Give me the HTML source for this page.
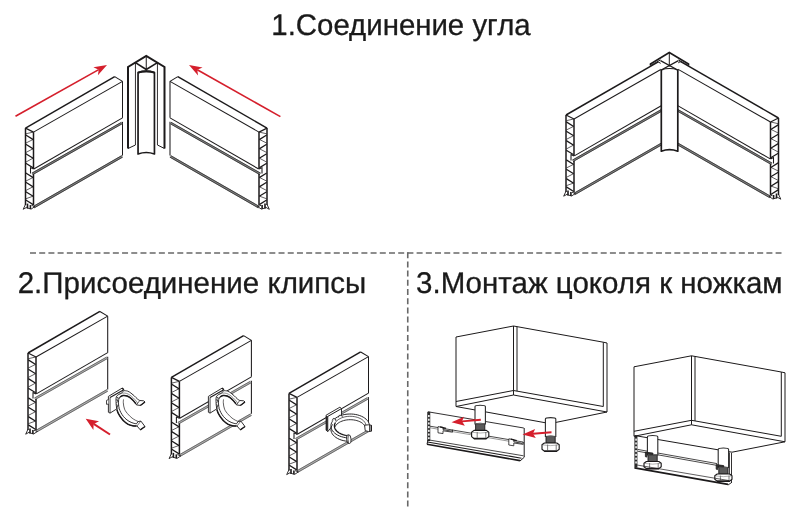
<!DOCTYPE html>
<html lang="ru">
<head>
<meta charset="utf-8">
<title>Монтаж цоколя</title>
<style>
html,body{margin:0;padding:0;background:#fff;}
body{width:800px;height:509px;overflow:hidden;position:relative;font-family:"Liberation Sans",sans-serif;}
svg{position:absolute;left:0;top:0;display:block;}
</style>
</head>
<body>
<svg width="800" height="509" viewBox="0 0 800 509">
<rect width="800" height="509" fill="#fff"/>
<line x1="30" y1="253" x2="781.5" y2="253" stroke="#686868" stroke-width="1.6" stroke-dasharray="6 3.205"/>
<line x1="407.75" y1="252.2" x2="407.75" y2="509" stroke="#686868" stroke-width="1.6" stroke-dasharray="6 3.2"/>
<g stroke-linecap="butt" stroke-linejoin="round">
<g transform="translate(25.5 128.1)">
<path d="M0 0 L89.2 -51.43 L97 -46.73 L97 28.27 L8 79 L0 77 Z" fill="#fff" stroke="none" stroke-width="0"/>
<line x1="0" y1="0" x2="89.2" y2="-51.43" stroke="#1c1a1b" stroke-width="1.5"/>
<line x1="8" y1="4" x2="97" y2="-46.73" stroke="#1c1a1b" stroke-width="1.05"/>
<line x1="89.2" y1="-51.43" x2="97" y2="-46.73" stroke="#1c1a1b" stroke-width="1.05"/>
<line x1="0" y1="0" x2="8" y2="4" stroke="#1c1a1b" stroke-width="1.2"/>
<line x1="97" y1="-46.73" x2="97" y2="-10.23" stroke="#1c1a1b" stroke-width="1.05"/>
<line x1="97" y1="-6.23" x2="97" y2="27.47" stroke="#1c1a1b" stroke-width="1.05"/>
<line x1="8.3" y1="40.9" x2="97" y2="-10.23" stroke="#1c1a1b" stroke-width="1.05"/>
<line x1="6.8" y1="45.8" x2="96.4" y2="-5.13" stroke="#858585" stroke-width="2.4"/>
<line x1="7.2" y1="46.5" x2="96.8" y2="-4.43" stroke="#2e2e2e" stroke-width="0.8"/>
<line x1="6.4" y1="45.1" x2="96" y2="-5.83" stroke="#2e2e2e" stroke-width="0.8"/>
<line x1="8.3" y1="79" x2="96.7" y2="28.27" stroke="#858585" stroke-width="2.5"/>
<line x1="8.72" y1="79.74" x2="97.12" y2="29.01" stroke="#2e2e2e" stroke-width="0.8"/>
<line x1="7.88" y1="78.26" x2="96.28" y2="27.53" stroke="#2e2e2e" stroke-width="0.8"/>
<line x1="0" y1="0" x2="0" y2="77" stroke="#1c1a1b" stroke-width="1.5"/>
<line x1="8" y1="4" x2="8" y2="41" stroke="#1c1a1b" stroke-width="1.5"/>
<line x1="8" y1="46" x2="8" y2="77" stroke="#1c1a1b" stroke-width="1.5"/>
<path d="M8 41 L5 39.5 L5 45.5" fill="none" stroke="#1c1a1b" stroke-width="1.05"/>
<line x1="0.3" y1="6.9" x2="7.7" y2="11.5" stroke="#1c1a1b" stroke-width="1.25"/>
<line x1="0.3" y1="16.2" x2="7.7" y2="20.8" stroke="#1c1a1b" stroke-width="1.25"/>
<line x1="0.3" y1="25.6" x2="7.7" y2="30.2" stroke="#1c1a1b" stroke-width="1.25"/>
<line x1="0.3" y1="35.2" x2="7.7" y2="39.8" stroke="#1c1a1b" stroke-width="1.25"/>
<line x1="0.3" y1="44.9" x2="7.7" y2="49.5" stroke="#1c1a1b" stroke-width="1.25"/>
<line x1="0.3" y1="54.2" x2="7.7" y2="58.8" stroke="#1c1a1b" stroke-width="1.25"/>
<line x1="0.3" y1="63.6" x2="7.7" y2="68.2" stroke="#1c1a1b" stroke-width="1.25"/>
<line x1="0.3" y1="71.9" x2="7.7" y2="76.5" stroke="#1c1a1b" stroke-width="1.25"/>
<line x1="7.7" y1="4" x2="0.3" y2="5.7" stroke="#1c1a1b" stroke-width="0.7"/>
<line x1="7.7" y1="11.3" x2="0.3" y2="15" stroke="#1c1a1b" stroke-width="0.7"/>
<line x1="7.7" y1="20.6" x2="0.3" y2="24.4" stroke="#1c1a1b" stroke-width="0.7"/>
<line x1="7.7" y1="30" x2="0.3" y2="34" stroke="#1c1a1b" stroke-width="0.7"/>
<line x1="7.7" y1="49.3" x2="0.3" y2="53" stroke="#1c1a1b" stroke-width="0.7"/>
<line x1="7.7" y1="58.6" x2="0.3" y2="62.4" stroke="#1c1a1b" stroke-width="0.7"/>
<line x1="7.7" y1="68" x2="0.3" y2="70.7" stroke="#1c1a1b" stroke-width="0.7"/>
<path d="M0 76.2 L-2.3 81.2 L1.2 79.2" fill="none" stroke="#1c1a1b" stroke-width="0.9"/>
<line x1="2" y1="75.5" x2="2" y2="80.4" stroke="#1c1a1b" stroke-width="1.6"/>
<line x1="4.9" y1="77" x2="4.9" y2="80.9" stroke="#1c1a1b" stroke-width="1.6"/>
<path d="M6 77.2 L9.4 78.5 L5.6 81" fill="none" stroke="#1c1a1b" stroke-width="0.9"/>
<line x1="1" y1="79.6" x2="5.6" y2="81" stroke="#1c1a1b" stroke-width="0.9"/>
</g>
<g transform="translate(267 128.1) scale(-1 1)">
<path d="M0 0 L89.2 -51.43 L97 -46.73 L97 28.27 L8 79 L0 77 Z" fill="#fff" stroke="none" stroke-width="0"/>
<line x1="0" y1="0" x2="89.2" y2="-51.43" stroke="#1c1a1b" stroke-width="1.5"/>
<line x1="8" y1="4" x2="97" y2="-46.73" stroke="#1c1a1b" stroke-width="1.05"/>
<line x1="89.2" y1="-51.43" x2="97" y2="-46.73" stroke="#1c1a1b" stroke-width="1.05"/>
<line x1="0" y1="0" x2="8" y2="4" stroke="#1c1a1b" stroke-width="1.2"/>
<line x1="97" y1="-46.73" x2="97" y2="-10.23" stroke="#1c1a1b" stroke-width="1.05"/>
<line x1="97" y1="-6.23" x2="97" y2="27.47" stroke="#1c1a1b" stroke-width="1.05"/>
<line x1="8.3" y1="40.9" x2="97" y2="-10.23" stroke="#1c1a1b" stroke-width="1.05"/>
<line x1="6.8" y1="45.8" x2="96.4" y2="-5.13" stroke="#858585" stroke-width="2.4"/>
<line x1="7.2" y1="46.5" x2="96.8" y2="-4.43" stroke="#2e2e2e" stroke-width="0.8"/>
<line x1="6.4" y1="45.1" x2="96" y2="-5.83" stroke="#2e2e2e" stroke-width="0.8"/>
<line x1="8.3" y1="79" x2="96.7" y2="28.27" stroke="#858585" stroke-width="2.5"/>
<line x1="8.72" y1="79.74" x2="97.12" y2="29.01" stroke="#2e2e2e" stroke-width="0.8"/>
<line x1="7.88" y1="78.26" x2="96.28" y2="27.53" stroke="#2e2e2e" stroke-width="0.8"/>
<line x1="0" y1="0" x2="0" y2="77" stroke="#1c1a1b" stroke-width="1.5"/>
<line x1="8" y1="4" x2="8" y2="41" stroke="#1c1a1b" stroke-width="1.5"/>
<line x1="8" y1="46" x2="8" y2="77" stroke="#1c1a1b" stroke-width="1.5"/>
<path d="M8 41 L5 39.5 L5 45.5" fill="none" stroke="#1c1a1b" stroke-width="1.05"/>
<line x1="0.3" y1="6.9" x2="7.7" y2="11.5" stroke="#1c1a1b" stroke-width="1.25"/>
<line x1="0.3" y1="16.2" x2="7.7" y2="20.8" stroke="#1c1a1b" stroke-width="1.25"/>
<line x1="0.3" y1="25.6" x2="7.7" y2="30.2" stroke="#1c1a1b" stroke-width="1.25"/>
<line x1="0.3" y1="35.2" x2="7.7" y2="39.8" stroke="#1c1a1b" stroke-width="1.25"/>
<line x1="0.3" y1="44.9" x2="7.7" y2="49.5" stroke="#1c1a1b" stroke-width="1.25"/>
<line x1="0.3" y1="54.2" x2="7.7" y2="58.8" stroke="#1c1a1b" stroke-width="1.25"/>
<line x1="0.3" y1="63.6" x2="7.7" y2="68.2" stroke="#1c1a1b" stroke-width="1.25"/>
<line x1="0.3" y1="71.9" x2="7.7" y2="76.5" stroke="#1c1a1b" stroke-width="1.25"/>
<line x1="7.7" y1="4" x2="0.3" y2="5.7" stroke="#1c1a1b" stroke-width="0.7"/>
<line x1="7.7" y1="11.3" x2="0.3" y2="15" stroke="#1c1a1b" stroke-width="0.7"/>
<line x1="7.7" y1="20.6" x2="0.3" y2="24.4" stroke="#1c1a1b" stroke-width="0.7"/>
<line x1="7.7" y1="30" x2="0.3" y2="34" stroke="#1c1a1b" stroke-width="0.7"/>
<line x1="7.7" y1="49.3" x2="0.3" y2="53" stroke="#1c1a1b" stroke-width="0.7"/>
<line x1="7.7" y1="58.6" x2="0.3" y2="62.4" stroke="#1c1a1b" stroke-width="0.7"/>
<line x1="7.7" y1="68" x2="0.3" y2="70.7" stroke="#1c1a1b" stroke-width="0.7"/>
<path d="M0 76.2 L-2.3 81.2 L1.2 79.2" fill="none" stroke="#1c1a1b" stroke-width="0.9"/>
<line x1="2" y1="75.5" x2="2" y2="80.4" stroke="#1c1a1b" stroke-width="1.6"/>
<line x1="4.9" y1="77" x2="4.9" y2="80.9" stroke="#1c1a1b" stroke-width="1.6"/>
<path d="M6 77.2 L9.4 78.5 L5.6 81" fill="none" stroke="#1c1a1b" stroke-width="0.9"/>
<line x1="1" y1="79.6" x2="5.6" y2="81" stroke="#1c1a1b" stroke-width="0.9"/>
</g>
<path d="M128 67 L146.25 56 L164.5 67 L164.5 148.5 L156.75 145 L154.45 154 L138.05 154 L135.75 145 L128 148.5 Z" fill="#fff" stroke="none" stroke-width="0"/>
<path d="M128 148.5 L128 67 L146.25 56 L164.5 67 L164.5 148.5" fill="none" stroke="#1c1a1b" stroke-width="2.0" stroke-linejoin="miter"/>
<line x1="135.45" y1="63" x2="135.45" y2="145" stroke="#1c1a1b" stroke-width="0.9"/>
<line x1="157.45" y1="63" x2="157.45" y2="145" stroke="#1c1a1b" stroke-width="0.9"/>
<line x1="128" y1="148.5" x2="135.45" y2="145" stroke="#1c1a1b" stroke-width="1.0"/>
<line x1="164.5" y1="148.5" x2="157.45" y2="145" stroke="#1c1a1b" stroke-width="1.0"/>
<line x1="135.45" y1="62.6" x2="146.25" y2="69.5" stroke="#1c1a1b" stroke-width="1.6"/>
<line x1="157.45" y1="62.6" x2="146.25" y2="69.5" stroke="#1c1a1b" stroke-width="1.6"/>
<line x1="146.25" y1="56" x2="146.25" y2="71" stroke="#1c1a1b" stroke-width="1.0"/>
<path d="M138.05 154 L138.05 72.6 Q146.25 70 154.45 72.6 L154.45 154 Q146.25 151 138.05 154 Z" fill="#fff" stroke="#1c1a1b" stroke-width="1.7"/>
<path d="M138.05 72.6 Q146.25 70 154.45 72.6" fill="none" stroke="#1c1a1b" stroke-width="2.0"/>
<line x1="15.5" y1="116.2" x2="98.71" y2="69.64" stroke="#d51f2c" stroke-width="1.65"/>
<path d="M107 65 L97.9 75.36 L98.71 69.64 L93.41 67.33 Z" fill="#d51f2c" stroke="none" stroke-width="0"/>
<line x1="280.4" y1="116.6" x2="197.27" y2="69.67" stroke="#d51f2c" stroke-width="1.65"/>
<path d="M189 65 L202.58 67.39 L197.27 69.67 L198.06 75.4 Z" fill="#d51f2c" stroke="none" stroke-width="0"/>
<g transform="translate(566 115)">
<path d="M0 0 L92.2 -53.14 L100 -48.44 L100 26.56 L8 79 L0 77 Z" fill="#fff" stroke="none" stroke-width="0"/>
<line x1="0" y1="0" x2="92.2" y2="-53.14" stroke="#1c1a1b" stroke-width="1.5"/>
<line x1="8" y1="4" x2="100" y2="-48.44" stroke="#1c1a1b" stroke-width="1.05"/>
<line x1="92.2" y1="-53.14" x2="100" y2="-48.44" stroke="#1c1a1b" stroke-width="1.05"/>
<line x1="0" y1="0" x2="8" y2="4" stroke="#1c1a1b" stroke-width="1.2"/>
<line x1="100" y1="-48.44" x2="100" y2="-11.94" stroke="#1c1a1b" stroke-width="1.05"/>
<line x1="100" y1="-7.94" x2="100" y2="25.76" stroke="#1c1a1b" stroke-width="1.05"/>
<line x1="8.3" y1="40.9" x2="100" y2="-11.94" stroke="#1c1a1b" stroke-width="1.05"/>
<line x1="6.8" y1="45.8" x2="99.4" y2="-6.84" stroke="#858585" stroke-width="2.4"/>
<line x1="7.2" y1="46.5" x2="99.8" y2="-6.14" stroke="#2e2e2e" stroke-width="0.8"/>
<line x1="6.4" y1="45.1" x2="99" y2="-7.54" stroke="#2e2e2e" stroke-width="0.8"/>
<line x1="8.3" y1="79" x2="99.7" y2="26.56" stroke="#858585" stroke-width="2.5"/>
<line x1="8.72" y1="79.74" x2="100.12" y2="27.3" stroke="#2e2e2e" stroke-width="0.8"/>
<line x1="7.88" y1="78.26" x2="99.28" y2="25.82" stroke="#2e2e2e" stroke-width="0.8"/>
<line x1="0" y1="0" x2="0" y2="77" stroke="#1c1a1b" stroke-width="1.5"/>
<line x1="8" y1="4" x2="8" y2="41" stroke="#1c1a1b" stroke-width="1.5"/>
<line x1="8" y1="46" x2="8" y2="77" stroke="#1c1a1b" stroke-width="1.5"/>
<path d="M8 41 L5 39.5 L5 45.5" fill="none" stroke="#1c1a1b" stroke-width="1.05"/>
<line x1="0.3" y1="6.9" x2="7.7" y2="11.5" stroke="#1c1a1b" stroke-width="1.25"/>
<line x1="0.3" y1="16.2" x2="7.7" y2="20.8" stroke="#1c1a1b" stroke-width="1.25"/>
<line x1="0.3" y1="25.6" x2="7.7" y2="30.2" stroke="#1c1a1b" stroke-width="1.25"/>
<line x1="0.3" y1="35.2" x2="7.7" y2="39.8" stroke="#1c1a1b" stroke-width="1.25"/>
<line x1="0.3" y1="44.9" x2="7.7" y2="49.5" stroke="#1c1a1b" stroke-width="1.25"/>
<line x1="0.3" y1="54.2" x2="7.7" y2="58.8" stroke="#1c1a1b" stroke-width="1.25"/>
<line x1="0.3" y1="63.6" x2="7.7" y2="68.2" stroke="#1c1a1b" stroke-width="1.25"/>
<line x1="0.3" y1="71.9" x2="7.7" y2="76.5" stroke="#1c1a1b" stroke-width="1.25"/>
<line x1="7.7" y1="4" x2="0.3" y2="5.7" stroke="#1c1a1b" stroke-width="0.7"/>
<line x1="7.7" y1="11.3" x2="0.3" y2="15" stroke="#1c1a1b" stroke-width="0.7"/>
<line x1="7.7" y1="20.6" x2="0.3" y2="24.4" stroke="#1c1a1b" stroke-width="0.7"/>
<line x1="7.7" y1="30" x2="0.3" y2="34" stroke="#1c1a1b" stroke-width="0.7"/>
<line x1="7.7" y1="49.3" x2="0.3" y2="53" stroke="#1c1a1b" stroke-width="0.7"/>
<line x1="7.7" y1="58.6" x2="0.3" y2="62.4" stroke="#1c1a1b" stroke-width="0.7"/>
<line x1="7.7" y1="68" x2="0.3" y2="70.7" stroke="#1c1a1b" stroke-width="0.7"/>
<path d="M0 76.2 L-2.3 81.2 L1.2 79.2" fill="none" stroke="#1c1a1b" stroke-width="0.9"/>
<line x1="2" y1="75.5" x2="2" y2="80.4" stroke="#1c1a1b" stroke-width="1.6"/>
<line x1="4.9" y1="77" x2="4.9" y2="80.9" stroke="#1c1a1b" stroke-width="1.6"/>
<path d="M6 77.2 L9.4 78.5 L5.6 81" fill="none" stroke="#1c1a1b" stroke-width="0.9"/>
<line x1="1" y1="79.6" x2="5.6" y2="81" stroke="#1c1a1b" stroke-width="0.9"/>
</g>
<g transform="translate(778.5 118) scale(-1 1)">
<path d="M0 0 L98.2 -56.56 L106 -51.86 L106 23.14 L8 79 L0 77 Z" fill="#fff" stroke="none" stroke-width="0"/>
<line x1="0" y1="0" x2="98.2" y2="-56.56" stroke="#1c1a1b" stroke-width="1.5"/>
<line x1="8" y1="4" x2="106" y2="-51.86" stroke="#1c1a1b" stroke-width="1.05"/>
<line x1="98.2" y1="-56.56" x2="106" y2="-51.86" stroke="#1c1a1b" stroke-width="1.05"/>
<line x1="0" y1="0" x2="8" y2="4" stroke="#1c1a1b" stroke-width="1.2"/>
<line x1="106" y1="-51.86" x2="106" y2="-15.36" stroke="#1c1a1b" stroke-width="1.05"/>
<line x1="106" y1="-11.36" x2="106" y2="22.34" stroke="#1c1a1b" stroke-width="1.05"/>
<line x1="8.3" y1="40.9" x2="106" y2="-15.36" stroke="#1c1a1b" stroke-width="1.05"/>
<line x1="6.8" y1="45.8" x2="105.4" y2="-10.26" stroke="#858585" stroke-width="2.4"/>
<line x1="7.2" y1="46.5" x2="105.8" y2="-9.56" stroke="#2e2e2e" stroke-width="0.8"/>
<line x1="6.4" y1="45.1" x2="105" y2="-10.96" stroke="#2e2e2e" stroke-width="0.8"/>
<line x1="8.3" y1="79" x2="105.7" y2="23.14" stroke="#858585" stroke-width="2.5"/>
<line x1="8.72" y1="79.74" x2="106.12" y2="23.88" stroke="#2e2e2e" stroke-width="0.8"/>
<line x1="7.88" y1="78.26" x2="105.28" y2="22.4" stroke="#2e2e2e" stroke-width="0.8"/>
<line x1="0" y1="0" x2="0" y2="77" stroke="#1c1a1b" stroke-width="1.5"/>
<line x1="8" y1="4" x2="8" y2="41" stroke="#1c1a1b" stroke-width="1.5"/>
<line x1="8" y1="46" x2="8" y2="77" stroke="#1c1a1b" stroke-width="1.5"/>
<path d="M8 41 L5 39.5 L5 45.5" fill="none" stroke="#1c1a1b" stroke-width="1.05"/>
<line x1="0.3" y1="6.9" x2="7.7" y2="11.5" stroke="#1c1a1b" stroke-width="1.25"/>
<line x1="0.3" y1="16.2" x2="7.7" y2="20.8" stroke="#1c1a1b" stroke-width="1.25"/>
<line x1="0.3" y1="25.6" x2="7.7" y2="30.2" stroke="#1c1a1b" stroke-width="1.25"/>
<line x1="0.3" y1="35.2" x2="7.7" y2="39.8" stroke="#1c1a1b" stroke-width="1.25"/>
<line x1="0.3" y1="44.9" x2="7.7" y2="49.5" stroke="#1c1a1b" stroke-width="1.25"/>
<line x1="0.3" y1="54.2" x2="7.7" y2="58.8" stroke="#1c1a1b" stroke-width="1.25"/>
<line x1="0.3" y1="63.6" x2="7.7" y2="68.2" stroke="#1c1a1b" stroke-width="1.25"/>
<line x1="0.3" y1="71.9" x2="7.7" y2="76.5" stroke="#1c1a1b" stroke-width="1.25"/>
<line x1="7.7" y1="4" x2="0.3" y2="5.7" stroke="#1c1a1b" stroke-width="0.7"/>
<line x1="7.7" y1="11.3" x2="0.3" y2="15" stroke="#1c1a1b" stroke-width="0.7"/>
<line x1="7.7" y1="20.6" x2="0.3" y2="24.4" stroke="#1c1a1b" stroke-width="0.7"/>
<line x1="7.7" y1="30" x2="0.3" y2="34" stroke="#1c1a1b" stroke-width="0.7"/>
<line x1="7.7" y1="49.3" x2="0.3" y2="53" stroke="#1c1a1b" stroke-width="0.7"/>
<line x1="7.7" y1="58.6" x2="0.3" y2="62.4" stroke="#1c1a1b" stroke-width="0.7"/>
<line x1="7.7" y1="68" x2="0.3" y2="70.7" stroke="#1c1a1b" stroke-width="0.7"/>
<path d="M0 76.2 L-2.3 81.2 L1.2 79.2" fill="none" stroke="#1c1a1b" stroke-width="0.9"/>
<line x1="2" y1="75.5" x2="2" y2="80.4" stroke="#1c1a1b" stroke-width="1.6"/>
<line x1="4.9" y1="77" x2="4.9" y2="80.9" stroke="#1c1a1b" stroke-width="1.6"/>
<path d="M6 77.2 L9.4 78.5 L5.6 81" fill="none" stroke="#1c1a1b" stroke-width="0.9"/>
<line x1="1" y1="79.6" x2="5.6" y2="81" stroke="#1c1a1b" stroke-width="0.9"/>
</g>
<path d="M661.3 151.2 L661.3 69.8 Q669.55 67.1 677.8 69.8 L677.8 151.2 Q669.55 148.2 661.3 151.2 Z" fill="#fff" stroke="#1c1a1b" stroke-width="1.7"/>
<path d="M650.5 65.2 L650.5 63.9 L669.3 52.5 L688.5 63.9 L688.5 65.2 L678.4 59.9 L678.1 70 L660.8 70 L660.5 59.9 Z" fill="#fff" stroke="none" stroke-width="0"/>
<path d="M661.3 69.8 Q669.55 67.1 677.8 69.8" fill="none" stroke="#1c1a1b" stroke-width="1.1"/>
<path d="M650.5 65.4 L650.5 63.9 L669.3 52.5 L688.5 63.9 L688.5 65.4" fill="none" stroke="#1c1a1b" stroke-width="1.7" stroke-linejoin="miter"/>
<line x1="650.5" y1="65.5" x2="660.5" y2="59.9" stroke="#1c1a1b" stroke-width="1.0"/>
<line x1="688.5" y1="65.5" x2="678.4" y2="59.9" stroke="#1c1a1b" stroke-width="1.0"/>
<line x1="660.5" y1="60.6" x2="678.1" y2="70.2" stroke="#1c1a1b" stroke-width="1.2"/>
<line x1="678.4" y1="60.6" x2="660.8" y2="70.2" stroke="#1c1a1b" stroke-width="1.2"/>
<line x1="669.3" y1="52.5" x2="669.3" y2="66.5" stroke="#1c1a1b" stroke-width="1.0"/>
<g transform="translate(28 353)">
<path d="M0 0 L71.9 -41.57 L79.7 -36.87 L79.7 37.33 L8 78.2 L0 77 Z" fill="#fff" stroke="none" stroke-width="0"/>
<line x1="0" y1="0" x2="71.9" y2="-41.57" stroke="#1c1a1b" stroke-width="1.5"/>
<line x1="8" y1="4" x2="79.7" y2="-36.87" stroke="#1c1a1b" stroke-width="1.05"/>
<line x1="71.9" y1="-41.57" x2="79.7" y2="-36.87" stroke="#1c1a1b" stroke-width="1.05"/>
<line x1="0" y1="0" x2="8" y2="4" stroke="#1c1a1b" stroke-width="1.2"/>
<line x1="79.7" y1="-36.87" x2="79.7" y2="-0.37" stroke="#1c1a1b" stroke-width="1.05"/>
<line x1="79.7" y1="3.63" x2="79.7" y2="36.53" stroke="#1c1a1b" stroke-width="1.05"/>
<line x1="8.3" y1="40.9" x2="79.7" y2="-0.37" stroke="#1c1a1b" stroke-width="1.05"/>
<line x1="6.8" y1="45.8" x2="79.1" y2="4.73" stroke="#b0b0b0" stroke-width="2.4"/>
<line x1="7.22" y1="46.54" x2="79.52" y2="5.47" stroke="#4a4a4a" stroke-width="0.7"/>
<line x1="6.38" y1="45.06" x2="78.68" y2="3.99" stroke="#4a4a4a" stroke-width="0.7"/>
<line x1="8.3" y1="78.2" x2="79.4" y2="37.33" stroke="#b0b0b0" stroke-width="2.5"/>
<line x1="8.75" y1="78.98" x2="79.85" y2="38.11" stroke="#4a4a4a" stroke-width="0.7"/>
<line x1="7.85" y1="77.42" x2="78.95" y2="36.55" stroke="#4a4a4a" stroke-width="0.7"/>
<line x1="0" y1="0" x2="0" y2="77" stroke="#1c1a1b" stroke-width="1.5"/>
<line x1="8" y1="4" x2="8" y2="41" stroke="#1c1a1b" stroke-width="1.5"/>
<line x1="8" y1="46" x2="8" y2="77" stroke="#1c1a1b" stroke-width="1.5"/>
<path d="M8 41 L5 39.5 L5 45.5" fill="none" stroke="#1c1a1b" stroke-width="1.05"/>
<line x1="0.3" y1="6.9" x2="7.7" y2="11.5" stroke="#1c1a1b" stroke-width="1.25"/>
<line x1="0.3" y1="16.2" x2="7.7" y2="20.8" stroke="#1c1a1b" stroke-width="1.25"/>
<line x1="0.3" y1="25.6" x2="7.7" y2="30.2" stroke="#1c1a1b" stroke-width="1.25"/>
<line x1="0.3" y1="35.2" x2="7.7" y2="39.8" stroke="#1c1a1b" stroke-width="1.25"/>
<line x1="0.3" y1="44.9" x2="7.7" y2="49.5" stroke="#1c1a1b" stroke-width="1.25"/>
<line x1="0.3" y1="54.2" x2="7.7" y2="58.8" stroke="#1c1a1b" stroke-width="1.25"/>
<line x1="0.3" y1="63.6" x2="7.7" y2="68.2" stroke="#1c1a1b" stroke-width="1.25"/>
<line x1="0.3" y1="71.9" x2="7.7" y2="76.5" stroke="#1c1a1b" stroke-width="1.25"/>
<line x1="7.7" y1="4" x2="0.3" y2="5.7" stroke="#1c1a1b" stroke-width="0.7"/>
<line x1="7.7" y1="11.3" x2="0.3" y2="15" stroke="#1c1a1b" stroke-width="0.7"/>
<line x1="7.7" y1="20.6" x2="0.3" y2="24.4" stroke="#1c1a1b" stroke-width="0.7"/>
<line x1="7.7" y1="30" x2="0.3" y2="34" stroke="#1c1a1b" stroke-width="0.7"/>
<line x1="7.7" y1="49.3" x2="0.3" y2="53" stroke="#1c1a1b" stroke-width="0.7"/>
<line x1="7.7" y1="58.6" x2="0.3" y2="62.4" stroke="#1c1a1b" stroke-width="0.7"/>
<line x1="7.7" y1="68" x2="0.3" y2="70.7" stroke="#1c1a1b" stroke-width="0.7"/>
<path d="M0 76.2 L-2.3 81.2 L1.2 79.2" fill="none" stroke="#1c1a1b" stroke-width="0.9"/>
<line x1="2" y1="75.5" x2="2" y2="80.4" stroke="#1c1a1b" stroke-width="1.6"/>
<line x1="4.9" y1="77" x2="4.9" y2="80.9" stroke="#1c1a1b" stroke-width="1.6"/>
<path d="M6 77.2 L9.4 78.5 L5.6 81" fill="none" stroke="#1c1a1b" stroke-width="0.9"/>
<line x1="1" y1="79.6" x2="5.6" y2="81" stroke="#1c1a1b" stroke-width="0.9"/>
</g>
<g transform="translate(171.4 377.4)">
<path d="M0 0 L72.2 -41.74 L80 -37.04 L80 37.16 L8 78.2 L0 77 Z" fill="#fff" stroke="none" stroke-width="0"/>
<line x1="0" y1="0" x2="72.2" y2="-41.74" stroke="#1c1a1b" stroke-width="1.5"/>
<line x1="8" y1="4" x2="80" y2="-37.04" stroke="#1c1a1b" stroke-width="1.05"/>
<line x1="72.2" y1="-41.74" x2="80" y2="-37.04" stroke="#1c1a1b" stroke-width="1.05"/>
<line x1="0" y1="0" x2="8" y2="4" stroke="#1c1a1b" stroke-width="1.2"/>
<line x1="80" y1="-37.04" x2="80" y2="-0.54" stroke="#1c1a1b" stroke-width="1.05"/>
<line x1="80" y1="3.46" x2="80" y2="36.36" stroke="#1c1a1b" stroke-width="1.05"/>
<line x1="8.3" y1="40.9" x2="80" y2="-0.54" stroke="#1c1a1b" stroke-width="1.05"/>
<line x1="6.8" y1="45.8" x2="79.4" y2="4.56" stroke="#b0b0b0" stroke-width="2.4"/>
<line x1="7.22" y1="46.54" x2="79.82" y2="5.3" stroke="#4a4a4a" stroke-width="0.7"/>
<line x1="6.38" y1="45.06" x2="78.98" y2="3.82" stroke="#4a4a4a" stroke-width="0.7"/>
<line x1="8.3" y1="78.2" x2="79.7" y2="37.16" stroke="#b0b0b0" stroke-width="2.5"/>
<line x1="8.75" y1="78.98" x2="80.15" y2="37.94" stroke="#4a4a4a" stroke-width="0.7"/>
<line x1="7.85" y1="77.42" x2="79.25" y2="36.38" stroke="#4a4a4a" stroke-width="0.7"/>
<line x1="0" y1="0" x2="0" y2="77" stroke="#1c1a1b" stroke-width="1.5"/>
<line x1="8" y1="4" x2="8" y2="41" stroke="#1c1a1b" stroke-width="1.5"/>
<line x1="8" y1="46" x2="8" y2="77" stroke="#1c1a1b" stroke-width="1.5"/>
<path d="M8 41 L5 39.5 L5 45.5" fill="none" stroke="#1c1a1b" stroke-width="1.05"/>
<line x1="0.3" y1="6.9" x2="7.7" y2="11.5" stroke="#1c1a1b" stroke-width="1.25"/>
<line x1="0.3" y1="16.2" x2="7.7" y2="20.8" stroke="#1c1a1b" stroke-width="1.25"/>
<line x1="0.3" y1="25.6" x2="7.7" y2="30.2" stroke="#1c1a1b" stroke-width="1.25"/>
<line x1="0.3" y1="35.2" x2="7.7" y2="39.8" stroke="#1c1a1b" stroke-width="1.25"/>
<line x1="0.3" y1="44.9" x2="7.7" y2="49.5" stroke="#1c1a1b" stroke-width="1.25"/>
<line x1="0.3" y1="54.2" x2="7.7" y2="58.8" stroke="#1c1a1b" stroke-width="1.25"/>
<line x1="0.3" y1="63.6" x2="7.7" y2="68.2" stroke="#1c1a1b" stroke-width="1.25"/>
<line x1="0.3" y1="71.9" x2="7.7" y2="76.5" stroke="#1c1a1b" stroke-width="1.25"/>
<line x1="7.7" y1="4" x2="0.3" y2="5.7" stroke="#1c1a1b" stroke-width="0.7"/>
<line x1="7.7" y1="11.3" x2="0.3" y2="15" stroke="#1c1a1b" stroke-width="0.7"/>
<line x1="7.7" y1="20.6" x2="0.3" y2="24.4" stroke="#1c1a1b" stroke-width="0.7"/>
<line x1="7.7" y1="30" x2="0.3" y2="34" stroke="#1c1a1b" stroke-width="0.7"/>
<line x1="7.7" y1="49.3" x2="0.3" y2="53" stroke="#1c1a1b" stroke-width="0.7"/>
<line x1="7.7" y1="58.6" x2="0.3" y2="62.4" stroke="#1c1a1b" stroke-width="0.7"/>
<line x1="7.7" y1="68" x2="0.3" y2="70.7" stroke="#1c1a1b" stroke-width="0.7"/>
<path d="M0 76.2 L-2.3 81.2 L1.2 79.2" fill="none" stroke="#1c1a1b" stroke-width="0.9"/>
<line x1="2" y1="75.5" x2="2" y2="80.4" stroke="#1c1a1b" stroke-width="1.6"/>
<line x1="4.9" y1="77" x2="4.9" y2="80.9" stroke="#1c1a1b" stroke-width="1.6"/>
<path d="M6 77.2 L9.4 78.5 L5.6 81" fill="none" stroke="#1c1a1b" stroke-width="0.9"/>
<line x1="1" y1="79.6" x2="5.6" y2="81" stroke="#1c1a1b" stroke-width="0.9"/>
</g>
<g transform="translate(289 393.4)">
<path d="M0 0 L71.7 -41.45 L79.5 -36.75 L79.5 37.45 L8 78.2 L0 77 Z" fill="#fff" stroke="none" stroke-width="0"/>
<line x1="0" y1="0" x2="71.7" y2="-41.45" stroke="#1c1a1b" stroke-width="1.5"/>
<line x1="8" y1="4" x2="79.5" y2="-36.75" stroke="#1c1a1b" stroke-width="1.05"/>
<line x1="71.7" y1="-41.45" x2="79.5" y2="-36.75" stroke="#1c1a1b" stroke-width="1.05"/>
<line x1="0" y1="0" x2="8" y2="4" stroke="#1c1a1b" stroke-width="1.2"/>
<line x1="79.5" y1="-36.75" x2="79.5" y2="-0.25" stroke="#1c1a1b" stroke-width="1.05"/>
<line x1="79.5" y1="3.75" x2="79.5" y2="36.65" stroke="#1c1a1b" stroke-width="1.05"/>
<line x1="8.3" y1="40.9" x2="79.5" y2="-0.25" stroke="#1c1a1b" stroke-width="1.05"/>
<line x1="6.8" y1="45.8" x2="78.9" y2="4.85" stroke="#b0b0b0" stroke-width="2.4"/>
<line x1="7.22" y1="46.54" x2="79.32" y2="5.58" stroke="#4a4a4a" stroke-width="0.7"/>
<line x1="6.38" y1="45.06" x2="78.48" y2="4.11" stroke="#4a4a4a" stroke-width="0.7"/>
<line x1="8.3" y1="78.2" x2="79.2" y2="37.45" stroke="#b0b0b0" stroke-width="2.5"/>
<line x1="8.75" y1="78.98" x2="79.65" y2="38.23" stroke="#4a4a4a" stroke-width="0.7"/>
<line x1="7.85" y1="77.42" x2="78.75" y2="36.66" stroke="#4a4a4a" stroke-width="0.7"/>
<line x1="0" y1="0" x2="0" y2="77" stroke="#1c1a1b" stroke-width="1.5"/>
<line x1="8" y1="4" x2="8" y2="41" stroke="#1c1a1b" stroke-width="1.5"/>
<line x1="8" y1="46" x2="8" y2="77" stroke="#1c1a1b" stroke-width="1.5"/>
<path d="M8 41 L5 39.5 L5 45.5" fill="none" stroke="#1c1a1b" stroke-width="1.05"/>
<line x1="0.3" y1="6.9" x2="7.7" y2="11.5" stroke="#1c1a1b" stroke-width="1.25"/>
<line x1="0.3" y1="16.2" x2="7.7" y2="20.8" stroke="#1c1a1b" stroke-width="1.25"/>
<line x1="0.3" y1="25.6" x2="7.7" y2="30.2" stroke="#1c1a1b" stroke-width="1.25"/>
<line x1="0.3" y1="35.2" x2="7.7" y2="39.8" stroke="#1c1a1b" stroke-width="1.25"/>
<line x1="0.3" y1="44.9" x2="7.7" y2="49.5" stroke="#1c1a1b" stroke-width="1.25"/>
<line x1="0.3" y1="54.2" x2="7.7" y2="58.8" stroke="#1c1a1b" stroke-width="1.25"/>
<line x1="0.3" y1="63.6" x2="7.7" y2="68.2" stroke="#1c1a1b" stroke-width="1.25"/>
<line x1="0.3" y1="71.9" x2="7.7" y2="76.5" stroke="#1c1a1b" stroke-width="1.25"/>
<line x1="7.7" y1="4" x2="0.3" y2="5.7" stroke="#1c1a1b" stroke-width="0.7"/>
<line x1="7.7" y1="11.3" x2="0.3" y2="15" stroke="#1c1a1b" stroke-width="0.7"/>
<line x1="7.7" y1="20.6" x2="0.3" y2="24.4" stroke="#1c1a1b" stroke-width="0.7"/>
<line x1="7.7" y1="30" x2="0.3" y2="34" stroke="#1c1a1b" stroke-width="0.7"/>
<line x1="7.7" y1="49.3" x2="0.3" y2="53" stroke="#1c1a1b" stroke-width="0.7"/>
<line x1="7.7" y1="58.6" x2="0.3" y2="62.4" stroke="#1c1a1b" stroke-width="0.7"/>
<line x1="7.7" y1="68" x2="0.3" y2="70.7" stroke="#1c1a1b" stroke-width="0.7"/>
<path d="M0 76.2 L-2.3 81.2 L1.2 79.2" fill="none" stroke="#1c1a1b" stroke-width="0.9"/>
<line x1="2" y1="75.5" x2="2" y2="80.4" stroke="#1c1a1b" stroke-width="1.6"/>
<line x1="4.9" y1="77" x2="4.9" y2="80.9" stroke="#1c1a1b" stroke-width="1.6"/>
<path d="M6 77.2 L9.4 78.5 L5.6 81" fill="none" stroke="#1c1a1b" stroke-width="0.9"/>
<line x1="1" y1="79.6" x2="5.6" y2="81" stroke="#1c1a1b" stroke-width="0.9"/>
</g>
<g transform="translate(0 0)">
<path d="M108.4 396.4 L122.15 388.1 L123.8 389.8 L123.8 400 L115.8 409.5 L110.05 413.1 L108.4 412.25 Z" fill="#fff" stroke="#1c1a1b" stroke-width="0.9"/>
<line x1="110.05" y1="397.5" x2="123.8" y2="389.8" stroke="#1c1a1b" stroke-width="1.1"/>
<line x1="110.05" y1="397.5" x2="110.05" y2="413.1" stroke="#1c1a1b" stroke-width="0.8"/>
<line x1="122.15" y1="388.1" x2="123.8" y2="389.8" stroke="#1c1a1b" stroke-width="1.5"/>
<path d="M108.4 399.6 L106.5 400.4 L106.5 404.3 L108.4 404.1" fill="#fff" stroke="#1c1a1b" stroke-width="0.8"/>
<path d="M123.8 390.6 C124.44 390.69 126.46 390.73 127.65 391.15 C128.84 391.57 129.85 392.33 130.95 393.1 C132.05 393.88 133.15 394.8 134.25 395.8 C135.35 396.8 136.63 398.32 137.55 399.1 C138.47 399.88 139.38 400.27 139.75 400.5 L143.6 400.8 L145 401.9 L141.95 404.35 L140.3 405.45 L136.45 404.9 L138.5 413 L138.1 421.6 L138.1 421.6 L140.85 421.05 L145 426.55 L140.3 429.85 L137 426 L136.45 426 C135.81 425.95 133.97 425.97 132.6 425.7 C131.22 425.43 129.57 425.03 128.2 424.35 C126.82 423.67 125.54 422.7 124.35 421.6 C123.16 420.5 122.06 419.12 121.05 417.75 C120.04 416.38 118.99 414.73 118.3 413.35 C117.61 411.98 117.13 410.14 116.9 409.5 L116.2 405 C116.17 404.17 115.97 401.39 116 400 C116.03 398.61 115.98 397.55 116.4 396.65 C116.82 395.75 117.65 395.18 118.5 394.6 C119.35 394.03 121 393.43 121.5 393.2 Z" fill="#fff" stroke="none" stroke-width="0"/>
<path d="M123.8 390.6 C124.44 390.69 126.46 390.73 127.65 391.15 C128.84 391.57 129.85 392.33 130.95 393.1 C132.05 393.88 133.15 394.8 134.25 395.8 C135.35 396.8 136.63 398.32 137.55 399.1 C138.47 399.88 139.38 400.27 139.75 400.5 L143.6 400.8 L145 401.9 L141.95 404.35 L140.3 405.45 L136.45 404.9 L135.9 403.8 C135.53 403.34 134.62 402.03 133.7 401.05 C132.78 400.07 131.5 398.74 130.4 397.9 C129.3 397.06 128.29 396.4 127.1 396 C125.91 395.6 124.44 395.35 123.25 395.5 C122.06 395.65 120.5 396.67 119.95 396.9 L118.7 399.5 C118.65 400.08 118.38 401.83 118.4 403 C118.42 404.17 118.55 405.25 118.8 406.5 C119.05 407.75 119.37 409.17 119.9 410.5 C120.43 411.83 121.15 413.22 122 414.5 C122.85 415.78 123.83 417.07 125 418.2 C126.17 419.33 127.64 420.48 129 421.3 C130.36 422.12 131.91 422.68 133.15 423.1 C134.39 423.52 135.9 423.68 136.45 423.8 L138.1 421.6 L140.85 421.05 L145 426.55 L140.3 429.85 L137 426 L136.45 426 C135.81 425.95 133.97 425.97 132.6 425.7 C131.22 425.43 129.57 425.03 128.2 424.35 C126.82 423.67 125.54 422.7 124.35 421.6 C123.16 420.5 122.06 419.12 121.05 417.75 C120.04 416.38 118.99 414.73 118.3 413.35 C117.61 411.98 117.13 410.14 116.9 409.5 L116.2 405 C116.17 404.17 115.97 401.39 116 400 C116.03 398.61 115.98 397.55 116.4 396.65 C116.82 395.75 117.65 395.18 118.5 394.6 C119.35 394.03 121 393.43 121.5 393.2 Z" fill="#fff" stroke="#1c1a1b" stroke-width="0.9"/>
<path d="M119.95 396.9 C120.5 396.67 122.06 395.65 123.25 395.5 C124.44 395.35 125.91 395.6 127.1 396 C128.29 396.4 129.3 397.06 130.4 397.9 C131.5 398.74 132.78 400.07 133.7 401.05 C134.62 402.03 135.53 403.34 135.9 403.8" fill="none" stroke="#1c1a1b" stroke-width="1.4"/>
<path d="M116.9 409.5 C117.13 410.14 117.61 411.98 118.3 413.35 C118.99 414.73 120.04 416.38 121.05 417.75 C122.06 419.12 123.16 420.5 124.35 421.6 C125.54 422.7 126.82 423.67 128.2 424.35 C129.57 425.03 131.22 425.43 132.6 425.7 C133.97 425.97 135.81 425.95 136.45 426" fill="none" stroke="#1c1a1b" stroke-width="1.4"/>
<path d="M118.5 394.6 C119.17 394.35 121.17 393.3 122.5 393.1 C123.83 392.9 125.25 393.05 126.5 393.4 C127.75 393.75 128.87 394.43 130 395.2 C131.13 395.97 132.25 397 133.3 398 C134.35 399 135.58 400.33 136.3 401.2 C137.02 402.07 137.38 402.87 137.6 403.2" fill="none" stroke="#444" stroke-width="0.6"/>
<path d="M123.5 399.4 C123.47 399.92 123.27 401.4 123.3 402.5 C123.33 403.6 123.48 404.87 123.7 406 C123.92 407.13 124.18 408.3 124.6 409.3 C125.02 410.3 125.51 411.05 126.2 412 C126.89 412.95 127.78 413.98 128.75 415 C129.72 416.02 130.95 417.23 132.05 418.1 C133.15 418.97 134.34 419.63 135.35 420.2 C136.36 420.77 137.64 421.28 138.1 421.5" fill="none" stroke="#1c1a1b" stroke-width="0.7"/>
<path d="M116.6 396.8 L118.6 398.2 L116.6 399.8 L118.4 401.2 L116.4 402.6" fill="none" stroke="#1c1a1b" stroke-width="0.8"/>
<path d="M116.4 404.6 L118.4 405.8 L116.6 407.4 L118.4 408.6" fill="none" stroke="#1c1a1b" stroke-width="0.8"/>
<line x1="139.75" y1="400.5" x2="136.45" y2="404.9" stroke="#1c1a1b" stroke-width="0.7"/>
<line x1="140.3" y1="405.45" x2="145" y2="401.9" stroke="#1c1a1b" stroke-width="1.3"/>
<line x1="140.3" y1="429.85" x2="145" y2="426.55" stroke="#1c1a1b" stroke-width="1.3"/>
<line x1="140.85" y1="421.05" x2="137" y2="426" stroke="#1c1a1b" stroke-width="0.6"/>
</g>
<g transform="translate(100 0)">
<path d="M108.4 396.4 L122.15 388.1 L123.8 389.8 L123.8 400 L115.8 409.5 L110.05 413.1 L108.4 412.25 Z" fill="#fff" stroke="#1c1a1b" stroke-width="0.9"/>
<line x1="110.05" y1="397.5" x2="123.8" y2="389.8" stroke="#1c1a1b" stroke-width="1.1"/>
<line x1="110.05" y1="397.5" x2="110.05" y2="413.1" stroke="#1c1a1b" stroke-width="0.8"/>
<line x1="122.15" y1="388.1" x2="123.8" y2="389.8" stroke="#1c1a1b" stroke-width="1.5"/>
<path d="M123.8 390.6 C124.44 390.69 126.46 390.73 127.65 391.15 C128.84 391.57 129.85 392.33 130.95 393.1 C132.05 393.88 133.15 394.8 134.25 395.8 C135.35 396.8 136.63 398.32 137.55 399.1 C138.47 399.88 139.38 400.27 139.75 400.5 L143.6 400.8 L145 401.9 L141.95 404.35 L140.3 405.45 L136.45 404.9 L138.5 413 L138.1 421.6 L138.1 421.6 L140.85 421.05 L145 426.55 L140.3 429.85 L137 426 L136.45 426 C135.81 425.95 133.97 425.97 132.6 425.7 C131.22 425.43 129.57 425.03 128.2 424.35 C126.82 423.67 125.54 422.7 124.35 421.6 C123.16 420.5 122.06 419.12 121.05 417.75 C120.04 416.38 118.99 414.73 118.3 413.35 C117.61 411.98 117.13 410.14 116.9 409.5 L116.2 405 C116.17 404.17 115.97 401.39 116 400 C116.03 398.61 115.98 397.55 116.4 396.65 C116.82 395.75 117.65 395.18 118.5 394.6 C119.35 394.03 121 393.43 121.5 393.2 Z" fill="#fff" stroke="none" stroke-width="0"/>
<path d="M123.8 390.6 C124.44 390.69 126.46 390.73 127.65 391.15 C128.84 391.57 129.85 392.33 130.95 393.1 C132.05 393.88 133.15 394.8 134.25 395.8 C135.35 396.8 136.63 398.32 137.55 399.1 C138.47 399.88 139.38 400.27 139.75 400.5 L143.6 400.8 L145 401.9 L141.95 404.35 L140.3 405.45 L136.45 404.9 L135.9 403.8 C135.53 403.34 134.62 402.03 133.7 401.05 C132.78 400.07 131.5 398.74 130.4 397.9 C129.3 397.06 128.29 396.4 127.1 396 C125.91 395.6 124.44 395.35 123.25 395.5 C122.06 395.65 120.5 396.67 119.95 396.9 L118.7 399.5 C118.65 400.08 118.38 401.83 118.4 403 C118.42 404.17 118.55 405.25 118.8 406.5 C119.05 407.75 119.37 409.17 119.9 410.5 C120.43 411.83 121.15 413.22 122 414.5 C122.85 415.78 123.83 417.07 125 418.2 C126.17 419.33 127.64 420.48 129 421.3 C130.36 422.12 131.91 422.68 133.15 423.1 C134.39 423.52 135.9 423.68 136.45 423.8 L138.1 421.6 L140.85 421.05 L145 426.55 L140.3 429.85 L137 426 L136.45 426 C135.81 425.95 133.97 425.97 132.6 425.7 C131.22 425.43 129.57 425.03 128.2 424.35 C126.82 423.67 125.54 422.7 124.35 421.6 C123.16 420.5 122.06 419.12 121.05 417.75 C120.04 416.38 118.99 414.73 118.3 413.35 C117.61 411.98 117.13 410.14 116.9 409.5 L116.2 405 C116.17 404.17 115.97 401.39 116 400 C116.03 398.61 115.98 397.55 116.4 396.65 C116.82 395.75 117.65 395.18 118.5 394.6 C119.35 394.03 121 393.43 121.5 393.2 Z" fill="#fff" stroke="#1c1a1b" stroke-width="0.9"/>
<path d="M119.95 396.9 C120.5 396.67 122.06 395.65 123.25 395.5 C124.44 395.35 125.91 395.6 127.1 396 C128.29 396.4 129.3 397.06 130.4 397.9 C131.5 398.74 132.78 400.07 133.7 401.05 C134.62 402.03 135.53 403.34 135.9 403.8" fill="none" stroke="#1c1a1b" stroke-width="1.4"/>
<path d="M116.9 409.5 C117.13 410.14 117.61 411.98 118.3 413.35 C118.99 414.73 120.04 416.38 121.05 417.75 C122.06 419.12 123.16 420.5 124.35 421.6 C125.54 422.7 126.82 423.67 128.2 424.35 C129.57 425.03 131.22 425.43 132.6 425.7 C133.97 425.97 135.81 425.95 136.45 426" fill="none" stroke="#1c1a1b" stroke-width="1.4"/>
<path d="M118.5 394.6 C119.17 394.35 121.17 393.3 122.5 393.1 C123.83 392.9 125.25 393.05 126.5 393.4 C127.75 393.75 128.87 394.43 130 395.2 C131.13 395.97 132.25 397 133.3 398 C134.35 399 135.58 400.33 136.3 401.2 C137.02 402.07 137.38 402.87 137.6 403.2" fill="none" stroke="#444" stroke-width="0.6"/>
<path d="M123.5 399.4 C123.47 399.92 123.27 401.4 123.3 402.5 C123.33 403.6 123.48 404.87 123.7 406 C123.92 407.13 124.18 408.3 124.6 409.3 C125.02 410.3 125.51 411.05 126.2 412 C126.89 412.95 127.78 413.98 128.75 415 C129.72 416.02 130.95 417.23 132.05 418.1 C133.15 418.97 134.34 419.63 135.35 420.2 C136.36 420.77 137.64 421.28 138.1 421.5" fill="none" stroke="#1c1a1b" stroke-width="0.7"/>
<path d="M116.6 396.8 L118.6 398.2 L116.6 399.8 L118.4 401.2 L116.4 402.6" fill="none" stroke="#1c1a1b" stroke-width="0.8"/>
<path d="M116.4 404.6 L118.4 405.8 L116.6 407.4 L118.4 408.6" fill="none" stroke="#1c1a1b" stroke-width="0.8"/>
<line x1="139.75" y1="400.5" x2="136.45" y2="404.9" stroke="#1c1a1b" stroke-width="0.7"/>
<line x1="140.3" y1="405.45" x2="145" y2="401.9" stroke="#1c1a1b" stroke-width="1.3"/>
<line x1="140.3" y1="429.85" x2="145" y2="426.55" stroke="#1c1a1b" stroke-width="1.3"/>
<line x1="140.85" y1="421.05" x2="137" y2="426" stroke="#1c1a1b" stroke-width="0.6"/>
</g>
<g transform="translate(0 0)">
<path d="M326.1 415.2 L339.9 407.2 L341.5 408.6 L341.5 416 L334 424 L327.8 431.6 L326.1 430.2 Z" fill="#fff" stroke="#1c1a1b" stroke-width="0.9"/>
<line x1="327.8" y1="416.4" x2="341.5" y2="408.6" stroke="#1c1a1b" stroke-width="1.0"/>
<line x1="327.8" y1="416.4" x2="327.8" y2="431.6" stroke="#1c1a1b" stroke-width="0.8"/>
<line x1="326.9" y1="416" x2="326.9" y2="430.6" stroke="#1c1a1b" stroke-width="1.6"/>
<path d="M330.9 426 L331.06 424.45 L331.54 422.93 L332.34 421.46 L333.43 420.06 L334.8 418.76 L336.43 417.59 L338.3 416.55 L340.36 415.68 L342.58 414.97 L344.93 414.46 L347.38 414.13 L349.86 414 L352.36 414.08 L354.81 414.35 L357.2 414.82 L359.46 415.47 L361.57 416.3 L363.49 417.3 L365.18 418.43 L366.63 419.7 L367.8 421.07 L368.67 422.52 L369.24 424.04 L369.49 425.58 L371.3 425.2 L371.3 431.2 L365.2 430.6 L358 434 L351.2 438 L351 442.6 L348.6 443.6 L346.6 441.4 L347.51 441.28 L345.58 441.05 L343.69 440.7 L341.87 440.22 L340.14 439.64 L338.51 438.95 L337 438.16 L335.63 437.27 L334.42 436.31 L333.37 435.27 L332.49 434.17 L331.8 433.02 L331.3 431.84 L331 430.62 L330.9 429.4 Z" fill="#fff" stroke="none" stroke-width="0"/>
<path d="M347.51 437.88 L345.37 437.62 L343.28 437.2 L341.29 436.64 L339.41 435.95 L337.67 435.12 L336.08 434.18 L334.69 433.14 L333.49 432 L332.5 430.78 L331.74 429.51 L331.22 428.19 L330.95 426.84 L330.92 425.48 L331.14 424.12 L331.6 422.79 L332.31 421.5 L333.24 420.27 L334.39 419.12 L335.75 418.05 L337.29 417.08 L338.99 416.23 L340.84 415.5 L342.81 414.91 L344.88 414.46 L347.01 414.16 L349.19 414.02 L351.38 414.02 L353.55 414.18 L355.68 414.49 L357.74 414.95 L359.7 415.56 L361.54 416.29 L363.24 417.15 L364.77 418.13 L366.11 419.2 L367.24 420.37 L368.16 421.6 L368.84 422.89 L369.29 424.23 L369.49 425.58" fill="none" stroke="#1c1a1b" stroke-width="0.95"/>
<path d="M347.51 441.28 L345.31 441.01 L343.17 440.57 L341.12 439.99 L339.2 439.26 L337.43 438.4 L335.83 437.41 L334.43 436.32 L333.24 435.13 L332.28 433.86 L331.57 432.53 L331.11 431.16 L330.91 429.77 L330.97 428.37 L331.3 426.98 L331.88 425.63 L332.71 424.33" fill="none" stroke="#1c1a1b" stroke-width="0.95"/>
<path d="M348 435.61 L346.28 435.4 L344.6 435.07 L343 434.63 L341.48 434.09 L340.07 433.44 L338.79 432.71 L337.64 431.89 L336.66 431 L335.84 430.04 L335.19 429.04 L334.74 428 L334.47 426.93 L334.4 425.85 L334.53 424.78 L334.84 423.72 L335.35 422.68" fill="none" stroke="#1c1a1b" stroke-width="1.3"/>
<path d="M335.35 422.68 L336.01 421.74 L336.82 420.84 L337.79 420 L338.89 419.22 L340.13 418.53 L341.47 417.91 L342.91 417.39 L344.44 416.97 L346.03 416.64 L347.67 416.43 L349.33 416.31 L351.01 416.31 L352.67 416.42 L354.31 416.63 L355.9 416.95 L357.43 417.38 L358.88 417.89 L360.23 418.5 L361.46 419.2 L362.57 419.97 L363.54 420.8 L364.36 421.7 L365.03 422.65 L365.52 423.63 L365.84 424.64 L365.99 425.66" fill="none" stroke="#1c1a1b" stroke-width="0.7"/>
<path d="M334.94 426.89 L335.47 425.88 L336.19 424.92 L337.06 424.01 L338.1 423.16 L339.27 422.39 L340.58 421.7 L342 421.11 L343.52 420.61 L345.12 420.21 L346.78 419.93 L348.48 419.76 L350.2 419.7 L351.92 419.76 L353.62 419.93 L355.28 420.21 L356.88 420.61 L358.4 421.11 L359.82 421.7 L361.13 422.39 L362.3 423.16 L363.34 424.01 L364.21 424.92 L364.93 425.88 L365.46 426.89" fill="none" stroke="#1c1a1b" stroke-width="0.9"/>
<path d="M332.2 420.6 L333.4 418.4 L335.6 419.2 L336 421" fill="#fff" stroke="#1c1a1b" stroke-width="0.9"/>
<path d="M338.4 417.4 L339.2 415.4 L341.4 415.2 L342.4 416.8" fill="#fff" stroke="#1c1a1b" stroke-width="0.9"/>
<path d="M364.6 425.2 L368.6 424.8 L371.3 425.2 L371.3 431.2 L368.6 431.6 L365.2 430.6 Z" fill="#fff" stroke="#1c1a1b" stroke-width="0.9"/>
<line x1="369.5" y1="424.9" x2="369.5" y2="431.5" stroke="#1c1a1b" stroke-width="0.8"/>
<line x1="371.3" y1="425.2" x2="371.3" y2="431.2" stroke="#1c1a1b" stroke-width="1.3"/>
<path d="M346.8 435.4 Q348.6 434 350.2 435.6 Q351.6 439 350.8 442.6 Q349.4 444.2 347.6 443 Q346 439.4 346.8 435.4 Z" fill="#fff" stroke="#1c1a1b" stroke-width="0.9"/>
<path d="M348.4 435 Q347.4 439 348.6 443.4" fill="none" stroke="#1c1a1b" stroke-width="0.7"/>
</g>
<line x1="110" y1="434.5" x2="93.68" y2="423.96" stroke="#d51f2c" stroke-width="2.0"/>
<path d="M85.7 418.8 L99.02 421.22 L93.68 423.96 L93.38 429.95 Z" fill="#d51f2c" stroke="none" stroke-width="0"/>
<g transform="translate(0 0)">
<path d="M456 337 L513.5 326 L603.3 342.2 L607 343 L607 412 L550 423.6 L456 406.5 Z" fill="#fff" stroke="none" stroke-width="0"/>
<path d="M456 406.5 L456 337 L513.5 326 L603.3 342.2 L607 343 L607 412" fill="none" stroke="#1c1a1b" stroke-width="1.0"/>
<line x1="513.5" y1="326" x2="513.5" y2="395" stroke="#1c1a1b" stroke-width="1.0"/>
<line x1="517" y1="326.6" x2="517" y2="391.2" stroke="#1c1a1b" stroke-width="1.0"/>
<line x1="603.3" y1="342.2" x2="603.3" y2="406.5" stroke="#1c1a1b" stroke-width="1.0"/>
<line x1="456" y1="401.5" x2="513.5" y2="390.5" stroke="#1c1a1b" stroke-width="1.0"/>
<line x1="456" y1="406.5" x2="513.5" y2="395" stroke="#1c1a1b" stroke-width="1.0"/>
<line x1="513.5" y1="390.5" x2="603.3" y2="406.5" stroke="#1c1a1b" stroke-width="1.0"/>
<line x1="513.5" y1="395" x2="607" y2="412" stroke="#1c1a1b" stroke-width="1.0"/>
<path d="M456 406.5 L550 423.6 L607 412" fill="none" stroke="#1c1a1b" stroke-width="1.0"/>
</g>
<path d="M428 411.8 L523.8 428 L524.5 457 L520 461 L427 444.2 L428 440 Z" fill="#fff" stroke="none" stroke-width="0"/>
<line x1="428" y1="411.8" x2="523.8" y2="428" stroke="#1c1a1b" stroke-width="0.9"/>
<line x1="428.75" y1="411.8" x2="428.75" y2="441" stroke="#2a2a2a" stroke-width="3.0"/>
<rect x="428.1" y="415" width="1.5" height="2.1" fill="#fff"/>
<rect x="428.1" y="418.7" width="1.5" height="2.1" fill="#fff"/>
<rect x="428.1" y="422.4" width="1.5" height="2.1" fill="#fff"/>
<rect x="428.1" y="426.1" width="1.5" height="2.1" fill="#fff"/>
<rect x="428.1" y="429.8" width="1.5" height="2.1" fill="#fff"/>
<rect x="428.1" y="433.5" width="1.5" height="2.1" fill="#fff"/>
<rect x="428.1" y="437.2" width="1.5" height="2.1" fill="#fff"/>
<line x1="524.2" y1="428" x2="524.2" y2="457" stroke="#1c1a1b" stroke-width="1.0"/>
<line x1="430" y1="426.2" x2="523" y2="442" stroke="#1c1a1b" stroke-width="0.8"/>
<line x1="430" y1="427.8" x2="523" y2="443.6" stroke="#555" stroke-width="0.6"/>
<line x1="428" y1="439.8" x2="523.5" y2="455.8" stroke="#1c1a1b" stroke-width="0.8"/>
<line x1="427.5" y1="442" x2="521.5" y2="458.2" stroke="#1c1a1b" stroke-width="1.1"/>
<line x1="427" y1="444.2" x2="520" y2="460.6" stroke="#1c1a1b" stroke-width="1.6"/>
<line x1="520" y1="461" x2="524.5" y2="457" stroke="#1c1a1b" stroke-width="1.0"/>
<line x1="427" y1="444.2" x2="428" y2="440" stroke="#1c1a1b" stroke-width="1.0"/>
<path d="M438 426.6 L443 427.4 L443 429.6 L451.5 431.2 L452.5 429.8 L452.5 432.2 L443 430.8 L443 433.6 L438 432.8 Z" fill="#fff" stroke="#1c1a1b" stroke-width="0.8"/>
<line x1="440" y1="426.9" x2="446" y2="428.4" stroke="#1c1a1b" stroke-width="1.4"/>
<path d="M508.8 438.8 L513.8 439.6 L513.8 441.8 L522.3 443.4 L523.3 442 L523.3 444.4 L513.8 443 L513.8 445.8 L508.8 445 Z" fill="#fff" stroke="#1c1a1b" stroke-width="0.8"/>
<line x1="510.8" y1="439.1" x2="516.8" y2="440.6" stroke="#1c1a1b" stroke-width="1.4"/>
<path d="M475 424.4 L475 406.6 C475 405.5 476.2 405.2 480.2 405.2 C484.2 405.2 485.4 405.5 485.4 406.6 L485.4 424.4" fill="#fff" stroke="#2a2a2a" stroke-width="1.1"/>
<rect x="475.6" y="423.8" width="9.2" height="6.8" fill="#5a5a5a" stroke="#1c1a1b" stroke-width="0.9"/>
<path d="M475.8 424 Q480.2 421.8 484.6 424 Z" fill="#8a8a8a" stroke="#555" stroke-width="0.5"/>
<path d="M471.6 432.2 L474 430.4 L486.4 430.4 L488.8 432.2 L488.8 436.6 L486.2 438.8 L474.2 438.8 L471.6 436.6 Z" fill="#fff" stroke="#1c1a1b" stroke-width="1.15"/>
<line x1="473.8" y1="438.4" x2="486.6" y2="438.4" stroke="#1c1a1b" stroke-width="1.3"/>
<line x1="477.2" y1="432" x2="477.2" y2="437.8" stroke="#444" stroke-width="0.7"/>
<line x1="485.8" y1="432" x2="485.8" y2="437.8" stroke="#444" stroke-width="0.7"/>
<path d="M472 432.3 Q480.2 433.8 488.4 432.3" fill="none" stroke="#666" stroke-width="0.5"/>
<path d="M545.4 437 L545.4 419 C545.4 417.9 546.6 417.6 550.6 417.6 C554.6 417.6 555.8 417.9 555.8 419 L555.8 437" fill="#fff" stroke="#2a2a2a" stroke-width="1.1"/>
<rect x="546" y="436.4" width="9.2" height="6.8" fill="#5a5a5a" stroke="#1c1a1b" stroke-width="0.9"/>
<path d="M546.2 436.6 Q550.6 434.4 555 436.6 Z" fill="#8a8a8a" stroke="#555" stroke-width="0.5"/>
<path d="M542 444.8 L544.4 443 L556.8 443 L559.2 444.8 L559.2 449.2 L556.6 451.4 L544.6 451.4 L542 449.2 Z" fill="#fff" stroke="#1c1a1b" stroke-width="1.15"/>
<line x1="544.2" y1="451" x2="557" y2="451" stroke="#1c1a1b" stroke-width="1.3"/>
<line x1="547.6" y1="444.6" x2="547.6" y2="450.4" stroke="#444" stroke-width="0.7"/>
<line x1="556.2" y1="444.6" x2="556.2" y2="450.4" stroke="#444" stroke-width="0.7"/>
<path d="M542.4 444.9 Q550.6 446.4 558.8 444.9" fill="none" stroke="#666" stroke-width="0.5"/>
<line x1="480.8" y1="419.7" x2="461.96" y2="421.37" stroke="#d51f2c" stroke-width="1.9"/>
<path d="M451.5 422.3 L464.05 416.67 L461.96 421.37 L464.85 425.63 Z" fill="#d51f2c" stroke="none" stroke-width="0"/>
<line x1="551.5" y1="432.3" x2="532.97" y2="433.77" stroke="#d51f2c" stroke-width="1.9"/>
<path d="M522.5 434.6 L535.1 429.09 L532.97 433.77 L535.82 438.06 Z" fill="#d51f2c" stroke="none" stroke-width="0"/>
<path d="M634 436 L730 452 L731.5 483 L728 485.5 L634 469.5 Z" fill="#fff" stroke="none" stroke-width="0"/>
<line x1="635.9" y1="436" x2="635.9" y2="467.5" stroke="#2a2a2a" stroke-width="3.0"/>
<rect x="635.3" y="438.6" width="1.5" height="2.1" fill="#fff"/>
<rect x="635.3" y="442.4" width="1.5" height="2.1" fill="#fff"/>
<rect x="635.3" y="446.2" width="1.5" height="2.1" fill="#fff"/>
<rect x="635.3" y="450" width="1.5" height="2.1" fill="#fff"/>
<rect x="635.3" y="453.8" width="1.5" height="2.1" fill="#fff"/>
<rect x="635.3" y="457.6" width="1.5" height="2.1" fill="#fff"/>
<rect x="635.3" y="461.4" width="1.5" height="2.1" fill="#fff"/>
<line x1="637.5" y1="449.4" x2="717" y2="463.6" stroke="#1c1a1b" stroke-width="0.8"/>
<line x1="637.5" y1="451.2" x2="717" y2="465.4" stroke="#1c1a1b" stroke-width="0.8"/>
<line x1="729.4" y1="452.5" x2="729.4" y2="482" stroke="#1c1a1b" stroke-width="0.9"/>
<line x1="731.5" y1="453" x2="731.5" y2="483" stroke="#1c1a1b" stroke-width="0.9"/>
<g transform="translate(178 29.8)">
<path d="M456 337 L513.5 326 L603.3 342.2 L607 343 L607 412 L554 422.4 L456.5 405.7 Z" fill="#fff" stroke="none" stroke-width="0"/>
<path d="M456 406.5 L456 337 L513.5 326 L603.3 342.2 L607 343 L607 412" fill="none" stroke="#1c1a1b" stroke-width="1.0"/>
<line x1="513.5" y1="326" x2="513.5" y2="395" stroke="#1c1a1b" stroke-width="1.0"/>
<line x1="517" y1="326.6" x2="517" y2="391.2" stroke="#1c1a1b" stroke-width="1.0"/>
<line x1="603.3" y1="342.2" x2="603.3" y2="406.5" stroke="#1c1a1b" stroke-width="1.0"/>
<line x1="456" y1="401.5" x2="513.5" y2="390.5" stroke="#1c1a1b" stroke-width="1.0"/>
<line x1="456" y1="406.5" x2="513.5" y2="395" stroke="#1c1a1b" stroke-width="1.0"/>
<line x1="513.5" y1="390.5" x2="603.3" y2="406.5" stroke="#1c1a1b" stroke-width="1.0"/>
<line x1="513.5" y1="395" x2="607" y2="412" stroke="#1c1a1b" stroke-width="1.0"/>
<path d="M456.5 405.7 L554 422.4 L607 412" fill="none" stroke="#1c1a1b" stroke-width="1.0"/>
</g>
<path d="M647.4 455.5 L647.4 436.9 C647.4 435.8 648.6 435.5 652.6 435.5 C656.6 435.5 657.8 435.8 657.8 436.9 L657.8 455.5" fill="#fff" stroke="#2a2a2a" stroke-width="1.1"/>
<rect x="648" y="454.9" width="9.2" height="6.8" fill="#5a5a5a" stroke="#1c1a1b" stroke-width="0.9"/>
<path d="M648.2 455.1 Q652.6 452.9 657 455.1 Z" fill="#8a8a8a" stroke="#555" stroke-width="0.5"/>
<path d="M645.4 452.1 L652.9 453.1 L652.9 454.5 L646.8 453.9 L646.8 457.1 L645.4 456.7 Z" fill="#333" stroke="#1c1a1b" stroke-width="0.8"/>
<path d="M644 463.3 L646.4 461.5 L658.8 461.5 L661.2 463.3 L661.2 466.7 L658.6 468.9 L646.6 468.9 L644 466.7 Z" fill="#fff" stroke="#1c1a1b" stroke-width="1.15"/>
<line x1="646.2" y1="468.5" x2="659" y2="468.5" stroke="#1c1a1b" stroke-width="1.3"/>
<line x1="649.6" y1="463.1" x2="649.6" y2="467.9" stroke="#444" stroke-width="0.7"/>
<line x1="658.2" y1="463.1" x2="658.2" y2="467.9" stroke="#444" stroke-width="0.7"/>
<path d="M644.4 463.4 Q652.6 464.9 660.8 463.4" fill="none" stroke="#666" stroke-width="0.5"/>
<path d="M718.2 468 L718.2 449.4 C718.2 448.3 719.4 448 723.4 448 C727.4 448 728.6 448.3 728.6 449.4 L728.6 468" fill="#fff" stroke="#2a2a2a" stroke-width="1.1"/>
<rect x="718.8" y="467.4" width="9.2" height="6.8" fill="#5a5a5a" stroke="#1c1a1b" stroke-width="0.9"/>
<path d="M719 467.6 Q723.4 465.4 727.8 467.6 Z" fill="#8a8a8a" stroke="#555" stroke-width="0.5"/>
<path d="M716.2 464.6 L723.7 465.6 L723.7 467 L717.6 466.4 L717.6 469.6 L716.2 469.2 Z" fill="#333" stroke="#1c1a1b" stroke-width="0.8"/>
<path d="M714.8 475.8 L717.2 474 L729.6 474 L732 475.8 L732 479.2 L729.4 481.4 L717.4 481.4 L714.8 479.2 Z" fill="#fff" stroke="#1c1a1b" stroke-width="1.15"/>
<line x1="717" y1="481" x2="729.8" y2="481" stroke="#1c1a1b" stroke-width="1.3"/>
<line x1="720.4" y1="475.6" x2="720.4" y2="480.4" stroke="#444" stroke-width="0.7"/>
<line x1="729" y1="475.6" x2="729" y2="480.4" stroke="#444" stroke-width="0.7"/>
<path d="M715.2 475.9 Q723.4 477.4 731.6 475.9" fill="none" stroke="#666" stroke-width="0.5"/>
<line x1="637" y1="465" x2="729" y2="480.6" stroke="#1c1a1b" stroke-width="0.7"/>
<line x1="634.5" y1="467.9" x2="728" y2="484.4" stroke="#1c1a1b" stroke-width="1.9"/>
<line x1="728" y1="485" x2="731.5" y2="482.6" stroke="#1c1a1b" stroke-width="0.9"/>
</g>
<g opacity="0.999" font-family="'Liberation Sans', sans-serif" fill="#1a1a1a" stroke="#1a1a1a" stroke-width="0.3" stroke-linejoin="round" text-rendering="geometricPrecision">
<text transform="translate(271.3 35.2) scale(1 1.015)" font-size="29.4">1.Соединение угла</text>
<text transform="translate(17.7 293.1) scale(1 1.015)" font-size="29.5">2.Присоединение клипсы</text>
<text transform="translate(416.1 293.1) scale(1 1.015)" font-size="29.5">3.Монтаж цоколя к ножкам</text>
</g>
</svg>
</body>
</html>
